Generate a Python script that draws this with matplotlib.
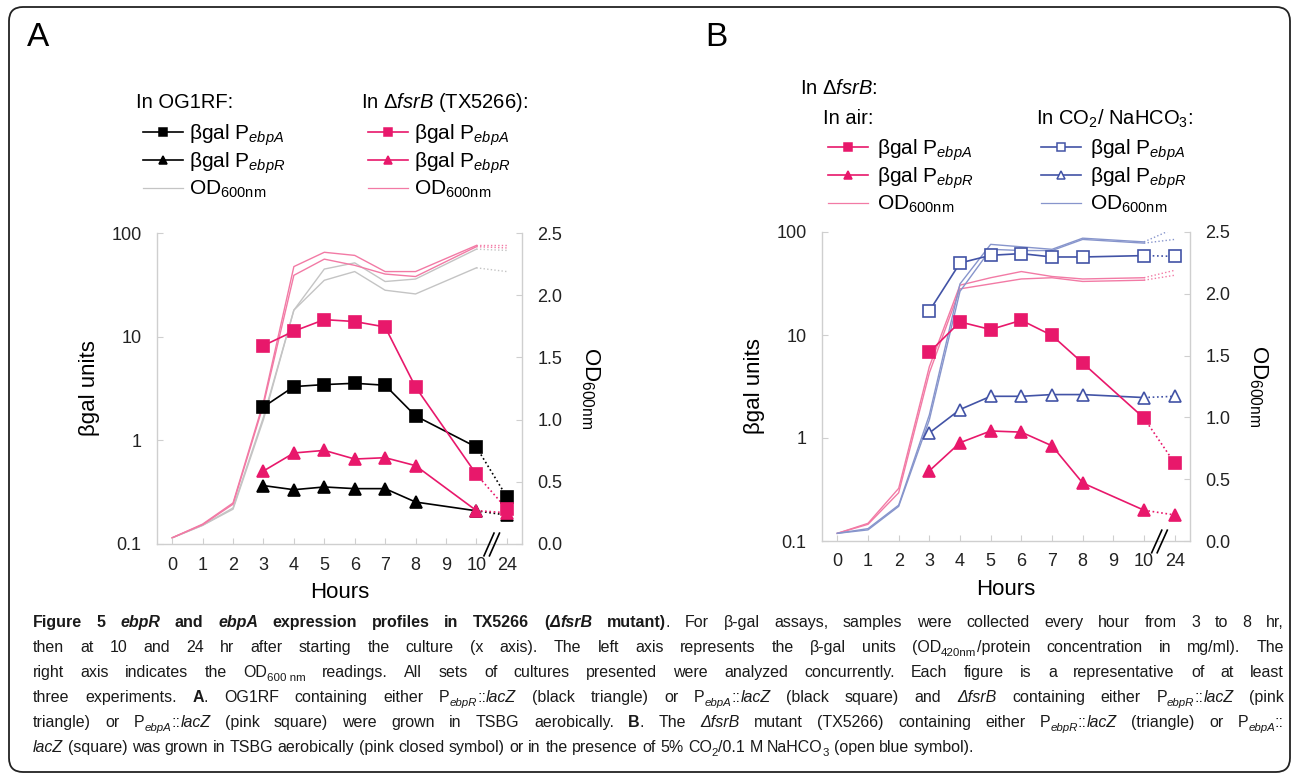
import re
import matplotlib
matplotlib.use('Agg')
import matplotlib.pyplot as plt
from matplotlib.lines import Line2D
from matplotlib.patches import FancyBboxPatch
from matplotlib.transforms import IdentityTransform
from matplotlib import font_manager

W, H = 1293, 778

plt.rcParams['font.family'] = ['Liberation Sans', 'DejaVu Sans']
plt.rcParams['mathtext.fontset'] = 'custom'
plt.rcParams['mathtext.rm'] = 'Liberation Sans'
plt.rcParams['mathtext.it'] = 'Liberation Sans:italic'
plt.rcParams['mathtext.bf'] = 'Liberation Sans:bold'

# ---- data -------------------------------------------------------------
HOURS_OD = [0, 1, 2, 3, 4, 5, 6, 7, 8, 10, 24]
HOURS_BG = [3, 4, 5, 6, 7, 8, 10, 24]
XTICK_LABELS = ['0', '1', '2', '3', '4', '5', '6', '7', '8', '9', '10', '24']

# panel A, beta-gal units
A_WT_EBPA = [2.1, 3.3, 3.45, 3.55, 3.4, 1.72, 0.86, 0.285]
A_WT_EBPR = [0.366, 0.334, 0.355, 0.342, 0.342, 0.254, 0.209, 0.19]
A_FSR_EBPA = [8.2, 11.3, 14.6, 14.0, 12.4, 3.27, 0.47, 0.218]
A_FSR_EBPR = [0.506, 0.755, 0.80, 0.66, 0.68, 0.57, 0.21, 0.20]
# panel A, OD600
A_WT_OD1 = [0.05, 0.15, 0.29, 1.02, 1.88, 2.21, 2.26, 2.11, 2.13, 2.37, 2.36]
A_WT_OD2 = [0.05, 0.15, 0.28, 1.00, 1.88, 2.12, 2.19, 2.04, 2.01, 2.22, 2.19]
A_FSR_OD1 = [0.05, 0.16, 0.33, 1.14, 2.23, 2.345, 2.32, 2.19, 2.19, 2.40, 2.40]
A_FSR_OD2 = [0.05, 0.155, 0.32, 1.12, 2.16, 2.29, 2.24, 2.17, 2.15, 2.39, 2.38]

# panel B, beta-gal units
B_AIR_EBPA = [6.8, 13.4, 11.3, 13.9, 9.9, 5.35, 1.56, 0.57]
B_AIR_EBPR = [0.48, 0.90, 1.17, 1.14, 0.84, 0.366, 0.199, 0.179]
B_CO2_EBPA = [17.1, 50, 59.4, 61.7, 57.2, 57.2, 59, 58]
B_CO2_EBPR = [1.12, 1.89, 2.54, 2.54, 2.64, 2.64, 2.47, 2.54]
# panel B, OD600
B_AIR_OD1 = [0.062, 0.143, 0.426, 1.41, 2.07, 2.13, 2.18, 2.14, 2.12, 2.13, 2.19]
B_AIR_OD2 = [0.062, 0.135, 0.39, 1.36, 2.04, 2.08, 2.12, 2.13, 2.10, 2.11, 2.15]
B_CO2_OD1 = [0.062, 0.10, 0.29, 1.02, 2.08, 2.40, 2.38, 2.36, 2.45, 2.42, 2.53]
B_CO2_OD2 = [0.062, 0.09, 0.28, 0.98, 2.02, 2.36, 2.35, 2.35, 2.44, 2.41, 2.44]

CAPTION = [
    "<b>Figure 5 <i>ebpR</i> and <i>ebpA</i> expression profiles in TX5266 (<i>Δ</i><i>fsrB</i> mutant)</b>. "
    "For β-gal assays, samples were collected every hour from 3 to 8 hr,",
    "then at 10 and 24 hr after starting the culture (x axis). The left axis represents the β-gal units "
    "(OD<sub>420nm</sub>/protein concentration in mg/ml). The",
    "right axis indicates the OD<sub>600\u00a0nm</sub> readings. All sets of cultures presented were analyzed "
    "concurrently. Each figure is a representative of at least",
    "three experiments. <b>A</b>. OG1RF containing either P<sub><i>ebpR</i></sub>::<i>lacZ</i> (black triangle) "
    "or P<sub><i>ebpA</i></sub>::<i>lacZ</i> (black square) and <i>ΔfsrB</i> containing either "
    "P<sub><i>ebpR</i></sub>::<i>lacZ</i> (pink",
    "triangle) or P<sub><i>ebpA</i></sub>::<i>lacZ</i> (pink square) were grown in TSBG aerobically. <b>B</b>. "
    "The <i>ΔfsrB</i> mutant (TX5266) containing either P<sub><i>ebpR</i></sub>::<i>lacZ</i> (triangle) "
    "or P<sub><i>ebpA</i></sub>::",
    "<i>lacZ</i> (square) was grown in TSBG aerobically (pink closed symbol) or in the presence of 5% "
    "CO<sub>2</sub>/0.1 M NaHCO<sub>3</sub> (open blue symbol).",
]

BLACK = '#000000'
GRAY = '#c4c4c4'
PINK = '#e8186b'
PINK_LT = '#f27aa5'
BLUE = '#4253a6'
BLUE_LT = '#8795cc'
SPINE = '#cfcfcf'


def xpos(hours):
    return [h if h <= 10 else 11 for h in hours]


def series(ax, hours, vals, color, marker=None, mfc=None, lw=1.2, ms=8.5, mew=1.2, z=3):
    x = xpos(hours)
    kw = dict(marker=marker, ms=ms, mfc=mfc if mfc else color, mec=color, mew=mew)
    if marker is None:
        kw = {}
    ax.plot(x[:-1], vals[:-1], color=color, lw=lw, zorder=z, **kw)
    ax.plot(x[-2:], vals[-2:], color=color, lw=lw, ls=(0, (1, 1.6)), zorder=z - 0.5)
    if marker is not None:
        ax.plot(x[-1:], vals[-1:], ls='none', zorder=z, **kw)


def px_rect(l, t, r, b):
    return [l / W, 1 - b / H, (r - l) / W, (b - t) / H]


def setup(rect):
    ax = fig.add_axes(rect)
    ax2 = ax.twinx()
    ax.set_zorder(ax2.get_zorder() + 1)
    ax.patch.set_visible(False)
    ax.set_yscale('log')
    ax.set_ylim(0.1, 100)
    ax.set_yticks([0.1, 1, 10, 100])
    ax.set_yticklabels(['0.1', '1', '10', '100'])
    ax.minorticks_off()
    ax2.set_ylim(0, 2.5)
    ax2.set_yticks([0, 0.5, 1.0, 1.5, 2.0, 2.5])
    ax2.set_yticklabels(['0.0', '0.5', '1.0', '1.5', '2.0', '2.5'])
    ax.set_xlim(-0.5, 11.5)
    ax.set_xticks(range(12))
    ax.set_xticklabels(XTICK_LABELS)
    for a in (ax, ax2):
        for s in a.spines.values():
            s.set_color(SPINE)
            s.set_linewidth(1.0)
        a.spines['top'].set_visible(False)
    ax.spines['right'].set_visible(False)
    ax2.spines['left'].set_visible(False)
    ax2.spines['bottom'].set_visible(False)
    ax.tick_params(axis='y', direction='in', length=4, color=SPINE, labelsize=13, pad=11, labelcolor='#222222')
    ax.tick_params(axis='x', direction='in', length=4, color=SPINE, labelsize=13, pad=9, labelcolor='#222222')
    ax2.tick_params(axis='y', direction='in', length=4, color=SPINE, labelsize=13, pad=11, labelcolor='#222222')
    ax.set_xlabel('Hours', fontsize=16, labelpad=6)
    ax.set_ylabel('βgal units', fontsize=16, labelpad=8)
    ax2.set_ylabel(r'OD$_{\mathrm{600nm}}$', fontsize=16, rotation=270, va='bottom', labelpad=12)
    # axis break marks between 10 and 24
    for x0 in (10.25, 10.43):
        ax.plot([x0, x0 + 0.33], [-0.038, 0.035], transform=ax.get_xaxis_transform(),
                color='k', lw=1.2, clip_on=False, zorder=10)
    return ax, ax2


def handle(color, marker=None, mfc=None, lw=1.2, ms=6):
    if marker is None:
        return Line2D([], [], color=color, lw=lw)
    return Line2D([], [], color=color, lw=lw, marker=marker, ms=ms,
                  mfc=mfc if mfc else color, mec=color, mew=1.1)


def legend(handles, labels, x, y, pad):
    fig.legend(handles, labels, loc='upper left', bbox_to_anchor=(x / W, 1 - y / H),
               frameon=False, fontsize=15, handlelength=1.9, handletextpad=pad,
               labelspacing=0.14, borderpad=0, borderaxespad=0)


fig = plt.figure(figsize=(W / 100, H / 100), dpi=100)

# outer rounded frame
fig.add_artist(FancyBboxPatch((9, H - 772), 1281, 765, boxstyle='round,pad=0,rounding_size=14',
                              transform=IdentityTransform(), fc='none', ec='#222222', lw=1.3))

# ---- panel A ----
axA, axA2 = setup(px_rect(157, 233, 522, 544))
series(axA2, HOURS_OD, A_WT_OD1, GRAY, lw=1.0)
series(axA2, HOURS_OD, A_WT_OD2, GRAY, lw=1.0)
series(axA2, HOURS_OD, A_FSR_OD1, PINK_LT, lw=1.0)
series(axA2, HOURS_OD, A_FSR_OD2, PINK_LT, lw=1.0)
series(axA, HOURS_BG, A_WT_EBPA, BLACK, 's')
series(axA, HOURS_BG, A_WT_EBPR, BLACK, '^')
series(axA, HOURS_BG, A_FSR_EBPA, PINK, 's')
series(axA, HOURS_BG, A_FSR_EBPR, PINK, '^')

# ---- panel B ----
axB, axB2 = setup(px_rect(822, 232, 1190, 541))
series(axB2, HOURS_OD, B_AIR_OD1, PINK_LT, lw=1.0)
series(axB2, HOURS_OD, B_AIR_OD2, PINK_LT, lw=1.0)
series(axB2, HOURS_OD, B_CO2_OD1, BLUE_LT, lw=1.0)
series(axB2, HOURS_OD, B_CO2_OD2, BLUE_LT, lw=1.0)
series(axB, HOURS_BG, B_CO2_EBPA, BLUE, 's', mfc='white', ms=8)
series(axB, HOURS_BG, B_CO2_EBPR, BLUE, '^', mfc='white', ms=8)
series(axB, HOURS_BG, B_AIR_EBPA, PINK, 's')
series(axB, HOURS_BG, B_AIR_EBPR, PINK, '^')

# ---- panel letters, legends ----
fig.text(27 / W, 1 - 38 / H, 'A', fontsize=24, va='center')
fig.text(705 / W, 1 - 38 / H, 'B', fontsize=24, va='center')

LBL = [r'βgal P$_{ebpA}$', r'βgal P$_{ebpR}$', r'OD$_{\mathrm{600nm}}$']

fig.text(136 / W, 1 - 102 / H, 'In OG1RF:', fontsize=14.5, va='center')
legend([handle(BLACK, 's'), handle(BLACK, '^'), handle(GRAY, lw=0.9)], LBL, 143, 122, 0.3)
fig.text(361 / W, 1 - 102 / H, r'In Δ$\mathit{fsrB}$ (TX5266):', fontsize=14.5, va='center')
legend([handle(PINK, 's'), handle(PINK, '^'), handle(PINK_LT, lw=0.9)], LBL, 368, 122, 0.3)

fig.text(800 / W, 1 - 88 / H, r'In Δ$\mathit{fsrB}$:', fontsize=14.5, va='center')
fig.text(823 / W, 1 - 119 / H, 'In air:', fontsize=14.5, va='center')
legend([handle(PINK, 's'), handle(PINK, '^'), handle(PINK_LT, lw=0.9)], LBL, 828, 137, 0.45)
fig.text(1036 / W, 1 - 119 / H, r'In CO$_2$/ NaHCO$_3$:', fontsize=14.5, va='center')
legend([handle(BLUE, 's', 'white'), handle(BLUE, '^', 'white'), handle(BLUE_LT, lw=0.9)],
       LBL, 1041, 137, 0.45)

# ---- caption (justified, word by word) ----
names = {f.name for f in font_manager.fontManager.ttflist}
if 'Liberation Sans Narrow' in names:
    CAP_FONT, CAP_SIZE = 'Liberation Sans Narrow', 13
else:
    CAP_FONT, CAP_SIZE = 'Liberation Sans', 11.5


def parse(line):
    words = [[]]
    st = {'b': False, 'i': False, 'sub': False}
    for tok in re.split(r'(</?(?:b|i|sub)>)', line):
        m = re.fullmatch(r'<(/?)(b|i|sub)>', tok)
        if m:
            st[m.group(2)] = not m.group(1)
            continue
        for k, part in enumerate(tok.split(' ')):
            if k > 0:
                words.append([])
            if part:
                words[-1].append((part, st['b'], st['i'], st['sub']))
    return [w for w in words if w]


renderer = fig.canvas.get_renderer()
X0, X1 = 33, 1284
t1 = fig.text(0, 0, 'a a', fontsize=CAP_SIZE, family=CAP_FONT)
t2 = fig.text(0, 0, 'aa', fontsize=CAP_SIZE, family=CAP_FONT)
space_w = t1.get_window_extent(renderer).width - t2.get_window_extent(renderer).width
t1.remove()
t2.remove()

for li, line in enumerate(CAPTION):
    base = 627 + 25 * li
    made = []
    for word in parse(line):
        segs = []
        for txt, b, it, sub in word:
            t = fig.text(0, 0, txt, family=CAP_FONT, fontsize=CAP_SIZE * (0.72 if sub else 1),
                         fontweight='bold' if b else 'normal', fontstyle='italic' if it else 'normal',
                         va='baseline', color='#1a1a1a')
            segs.append((t, t.get_window_extent(renderer).width, 4 if sub else 0))
        made.append(segs)
    total = sum(w for segs in made for _, w, _ in segs)
    gap = space_w if li == len(CAPTION) - 1 else (X1 - X0 - total) / (len(made) - 1)
    x = X0
    for segs in made:
        for t, w, dy in segs:
            t.set_position((x / W, 1 - (base + dy) / H))
            x += w
        x += gap

fig.savefig('out.png', dpi=100)
